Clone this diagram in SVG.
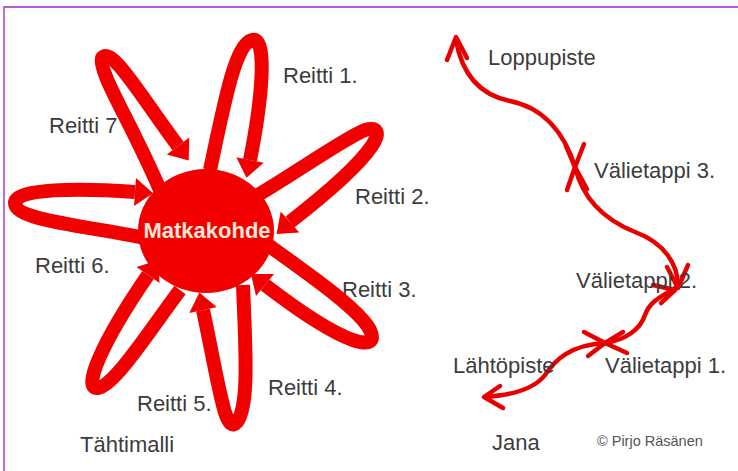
<svg xmlns="http://www.w3.org/2000/svg" width="738" height="471" viewBox="0 0 738 471">
<style>
.lbl{font-family:"Liberation Sans",Arial,sans-serif;font-size:22px;fill:#3c3c3c}
.petal{fill:none;stroke:#f20000;stroke-width:14;stroke-linecap:butt;stroke-linejoin:round}
.head{fill:#f20000}
.jana{fill:none;stroke:#e80000;stroke-width:4.5;stroke-linecap:round;stroke-linejoin:round}
</style>
<rect width="738" height="471" fill="#fff"/>
<path d="M4 471 V7 H738" fill="none" stroke="#b95ad6" stroke-width="1.8"/>

<g id="labels">
<text class="lbl" x="283" y="83">Reitti 1.</text>
<text class="lbl" x="49" y="133">Reitti 7</text>
<text class="lbl" x="355" y="204">Reitti 2.</text>
<text class="lbl" x="35" y="273">Reitti 6.</text>
<text class="lbl" x="342" y="297">Reitti 3.</text>
<text class="lbl" x="268" y="395">Reitti 4.</text>
<text class="lbl" x="137" y="411">Reitti 5.</text>
<text class="lbl" x="80" y="452">Tähtimalli</text>
</g>

<g id="connectors">
<g id="petal-7"><path class="petal" d="M160 190 C130 120,98 72,102 58 C112 46,140 95,178 146"/><polygon class="head" points="188.7,160.4 166.8,154.4 189.2,137.6"/></g>
<g id="petal-1"><path class="petal" d="M210 170 C225 100,235 45,252 40 C268 36,262 100,250 160"/><polygon class="head" points="246.5,177.7 236.3,157.3 263.7,162.7"/></g>
<g id="petal-2"><path class="petal" d="M258 195 C300 170,345 138,365 130 C388 124,385 148,290 222"/><polygon class="head" points="276.6,234 280.7,211.5 299.3,232.5"/></g>
<g id="petal-3"><path class="petal" d="M268 245 C310 275,360 310,370 330 C380 352,350 350,265 285"/><polygon class="head" points="251,274 256,296 274,274"/></g>
<g id="petal-4"><path class="petal" d="M243 285 C245 340,250 405,237 422 C225 436,220 390,203 310"/><polygon class="head" points="199.3,292.4 189.3,312.9 216.7,307.1"/></g>
<g id="petal-5"><path class="petal" d="M180 290 C150 330,115 385,98 388 C82 390,100 345,148 275"/><polygon class="head" points="158.2,260.2 136.5,267.1 159.5,282.9"/></g>
<g id="petal-6"><path class="petal" d="M145 238 C80 225,15 220,15 203 C15 188,80 188,135 192"/><polygon class="head" points="153,193.3 136,178 134,206"/></g>
</g>

<g id="matkakohde">
<ellipse cx="206" cy="231" rx="68" ry="62" fill="#f20000"/>
<text x="207" y="238" text-anchor="middle" font-family="Liberation Sans,Arial,sans-serif" font-weight="bold" font-size="22" fill="#f6e6d8">Matkakohde</text>
</g>

<g id="jana">
<path class="jana" d="M456 40 C462 75,480 95,510 101 C545 108,565 135,575 167 C583 200,605 220,635 232 C665 243,678 265,678 286 C665 295,650 300,645 315 C640 330,625 340,605 343 C570 345,555 360,545 375 C535 388,515 395,485 397"/>
<polyline class="jana" points="447,60 456,37 467,58"/>
<polyline class="jana" points="566,146 575,167 584,144"/>
<polyline class="jana" points="567,190 575,167 587,189"/>
<polyline class="jana" points="667,267 678,288 688,265"/>
<polyline class="jana" points="653,285 675,290 661,303"/>
<polyline class="jana" points="623,332 605,343 627,353"/>
<polyline class="jana" points="584,332 605,343 588,356"/>
<polyline class="jana" points="500,386 484,397 503,408"/>
</g>

<g id="jana-labels">
<text class="lbl" x="488" y="65">Loppupiste</text>
<text class="lbl" x="594" y="178">Välietappi 3.</text>
<text class="lbl" x="576" y="288">Välietappi 2.</text>
<text class="lbl" x="453" y="373">Lähtöpiste</text>
<text class="lbl" x="605" y="373">Välietappi 1.</text>
<text class="lbl" x="492" y="450">Jana</text>
<text x="597" y="446" font-family="Liberation Sans,Arial,sans-serif" font-size="14.5" fill="#555">© Pirjo Räsänen</text>
</g>
</svg>
